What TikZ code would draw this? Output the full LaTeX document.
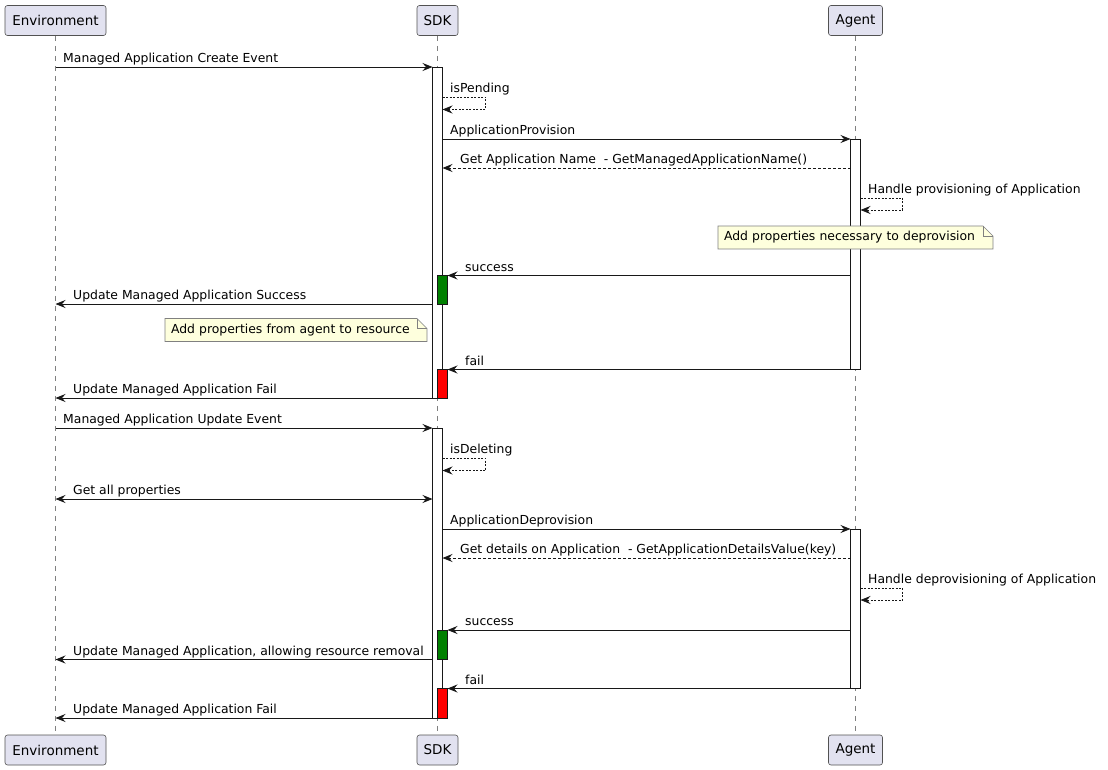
\documentclass[tikz,border=0pt]{standalone}
\usepackage{fontspec}
\setmainfont{DejaVu Sans}
\usepackage{xcolor}
\usetikzlibrary{arrows.meta}
\usetikzlibrary{positioning}

\definecolor{partfill}{HTML}{E2E2F0}
\definecolor{notefill}{HTML}{FEFFDD}
\definecolor{inkcol}{HTML}{181818}
\definecolor{okgreen}{HTML}{008000}
\definecolor{failred}{HTML}{FF0000}

\begin{document}
\begin{tikzpicture}[
  x=1pt, y=-1pt,
  participant/.style={draw=inkcol!75, fill=partfill, rounded corners=2.5pt, minimum height=30pt, inner sep=0pt, line width=0.6pt, font=\fontsize{13.5}{15}\selectfont},
  lifeline/.style={draw=inkcol!55, line width=0.6pt, dash pattern=on 5pt off 5pt},
  actbar/.style={draw=inkcol, fill=white, line width=0.9pt, minimum width=10pt, inner sep=0pt, outer sep=0pt, anchor=north},
  msg/.style={draw=inkcol, line width=0.9pt, -{Stealth[length=10pt, width=8pt, inset=3.5pt]}},
  reply/.style={msg, dash pattern=on 3pt off 2pt},
  selfmsg/.style={msg, line width=0.7pt, dash pattern=on 2pt off 1.5pt},
  twoway/.style={msg, {Stealth[length=10pt, width=8pt, inset=3.5pt]}-{Stealth[length=10pt, width=8pt, inset=3.5pt]}},
  lbl/.style={anchor=base west, inner sep=0pt, font=\fontsize{12.4}{14}\selectfont},
  notetext/.style={anchor=north west, fill=notefill, inner xsep=6pt, inner ysep=0pt, outer sep=0pt, minimum height=23pt, align=left, font=\fontsize{12.4}{14}\selectfont},
  notebox/.style={draw=inkcol!55, line width=0.6pt},
]

\useasboundingbox (0,0) rectangle (1108,770);

% Participants - top and bottom
\node[participant, minimum width=101pt] (envTop)   at (55.5, 20.5) {Environment};
\node[participant, minimum width=41pt]  (sdkTop)   at (437.5,20.5) {SDK};
\node[participant, minimum width=54pt]  (agentTop) at (855.5,20.5) {Agent};
\node[participant, minimum width=101pt] (envBot)   at (55.5, 750)  {Environment};
\node[participant, minimum width=41pt]  (sdkBot)   at (437.5,750)  {SDK};
\node[participant, minimum width=54pt]  (agentBot) at (855.5,750)  {Agent};

% Lifelines
\draw[lifeline] (envTop)   -- (envBot);
\draw[lifeline] (sdkTop)   -- (sdkBot);
\draw[lifeline] (agentTop) -- (agentBot);

% Activation bars
\node[actbar, minimum height=331pt] (sdkA)  at (437.5,67)  {};
\node[actbar, minimum height=290pt] (sdkB)  at (437.5,428) {};
\node[actbar, minimum height=230.5pt] (agA) at (855.5,139) {};
\node[actbar, minimum height=159.5pt] (agB) at (855.5,529) {};
\node[actbar, fill=okgreen, minimum height=28.5pt] (okA)   at (442.5,275.5) {};
\node[actbar, fill=failred, minimum height=28.5pt] (failA) at (442.5,369.5) {};
\node[actbar, fill=okgreen, minimum height=29.5pt] (okB)   at (442.5,630)   {};
\node[actbar, fill=failred, minimum height=29.5pt] (failB) at (442.5,688.5) {};

% Notes
\node[notetext, text width=263pt] (noteDeprov) at (718,226) {Add properties necessary to deprovision};
\fill[white] ([xshift=-10pt]noteDeprov.north east) -- (noteDeprov.north east) -- ([yshift=-10pt]noteDeprov.north east) -- cycle;
\draw[notebox] (noteDeprov.south west) -- (noteDeprov.north west) -- ([xshift=-10pt]noteDeprov.north east)
  -- ([yshift=-10pt]noteDeprov.north east) -- (noteDeprov.south east) -- cycle;
\draw[notebox] ([xshift=-10pt]noteDeprov.north east) -- ([xshift=-10pt,yshift=-10pt]noteDeprov.north east) -- ([yshift=-10pt]noteDeprov.north east);
\node[notetext, text width=250pt] (noteRes) at (165,318.5) {Add properties from agent to resource};
\fill[white] ([xshift=-10pt]noteRes.north east) -- (noteRes.north east) -- ([yshift=-10pt]noteRes.north east) -- cycle;
\draw[notebox] (noteRes.south west) -- (noteRes.north west) -- ([xshift=-10pt]noteRes.north east)
  -- ([yshift=-10pt]noteRes.north east) -- (noteRes.south east) -- cycle;
\draw[notebox] ([xshift=-10pt]noteRes.north east) -- ([xshift=-10pt,yshift=-10pt]noteRes.north east) -- ([yshift=-10pt]noteRes.north east);

% Create phase
\draw[msg] (envTop |- 0,67) -- (sdkA.north west);
\node[lbl] (lCreate) at (63,62.5) {Managed Application Create Event};
\draw[selfmsg] (sdkA.east |- 0,97) -- ++(43,0) -- ++(0,12.5) -- (sdkA.east |- 0,109.5);
\node[lbl] (lPending) at (450,92.5) {isPending};
\draw[msg] (sdkA.east |- 0,139) -- (agA.north west);
\node[lbl] (lProv) at (450,134.5) {ApplicationProvision};
\draw[reply] (agA.west |- 0,168) -- (sdkA.east |- 0,168);
\node[lbl] (lName) at (460,163.5) {Get Application Name\ \ - GetManagedApplicationName()};
\draw[selfmsg] (agA.east |- 0,198) -- ++(42,0) -- ++(0,12) -- (agA.east |- 0,210);
\node[lbl] (lHandleProv) at (868,193.5) {Handle provisioning of Application};
\draw[msg] (agA.west |- 0,275.5) -- (okA.north east);
\node[lbl] (lOkA) at (465,271) {success};
\draw[msg] (sdkA.west |- 0,304) -- (envTop |- 0,304);
\node[lbl] (lUpdOk) at (73,299.5) {Update Managed Application Success};
\draw[msg] (agA.south west) -- (failA.north east);
\node[lbl] (lFailA) at (465,365) {fail};
\draw[msg] (sdkA.south west) -- (envTop |- sdkA.south west);
\node[lbl] (lUpdFailA) at (73,393.5) {Update Managed Application Fail};

% Update phase
\draw[msg] (envTop |- 0,428) -- (sdkB.north west);
\node[lbl] (lUpdate) at (63,423.5) {Managed Application Update Event};
\draw[selfmsg] (sdkB.east |- 0,458) -- ++(43,0) -- ++(0,12.5) -- (sdkB.east |- 0,470.5);
\node[lbl] (lDeleting) at (450,453.5) {isDeleting};
\draw[twoway] (envTop |- 0,499) -- (sdkB.west |- 0,499);
\node[lbl] (lProps) at (73,494.5) {Get all properties};
\draw[msg] (sdkB.east |- 0,529) -- (agB.north west);
\node[lbl] (lDeprov) at (450,524.5) {ApplicationDeprovision};
\draw[reply] (agB.west |- 0,558) -- (sdkB.east |- 0,558);
\node[lbl] (lDetails) at (460,553.5) {Get details on Application\ \ - GetApplicationDetailsValue(key)};
\draw[selfmsg] (agB.east |- 0,588) -- ++(42,0) -- ++(0,12) -- (agB.east |- 0,600);
\node[lbl] (lHandleDeprov) at (868,583.5) {Handle deprovisioning of Application};
\draw[msg] (agB.west |- 0,630) -- (okB.north east);
\node[lbl] (lOkB) at (465,625.5) {success};
\draw[msg] (sdkB.west |- 0,659.5) -- (envTop |- 0,659.5);
\node[lbl] (lUpdRemove) at (73,655) {Update Managed Application, allowing resource removal};
\draw[msg] (agB.south west) -- (failB.north east);
\node[lbl] (lFailB) at (465,684) {fail};
\draw[msg] (sdkB.south west) -- (envTop |- sdkB.south west);
\node[lbl] (lUpdFailB) at (73,713.5) {Update Managed Application Fail};

\end{tikzpicture}
\end{document}
